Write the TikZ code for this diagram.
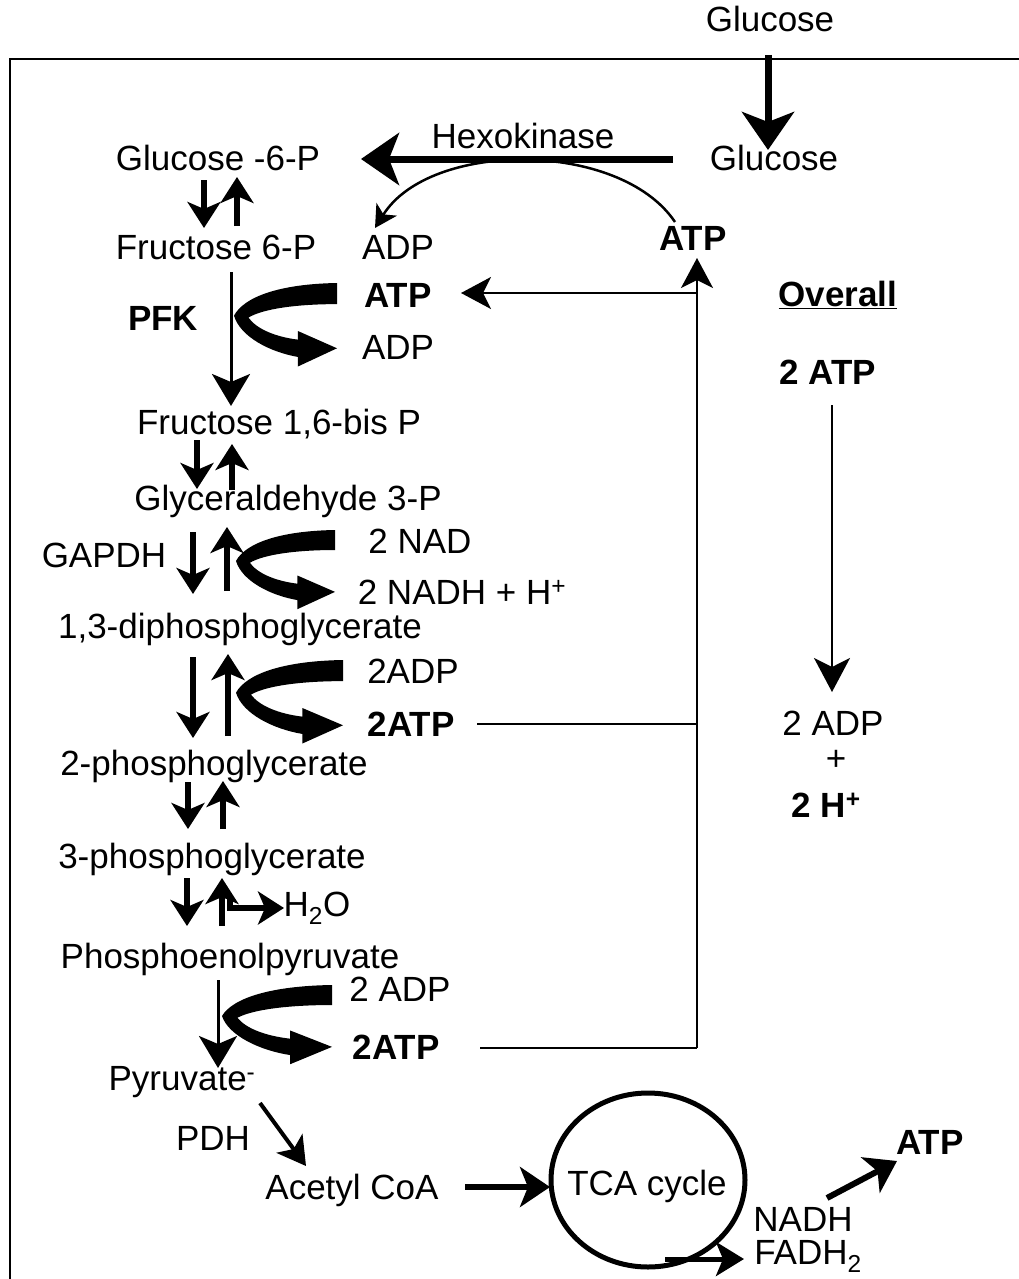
\documentclass[tikz,border=0pt]{standalone}
\usepackage{fontspec}
\setmainfont{Liberation Sans}
\usetikzlibrary{arrows.meta}
\begin{document}
\begin{tikzpicture}[x=1pt,y=-1pt,
  font=\fontsize{35}{40}\selectfont,
  lab/.style={inner sep=0pt, anchor=base},
  bf/.style={font=\fontsize{35}{40}\selectfont\bfseries},
  thinln/.style={line width=2pt},
  thinarr/.style={line width=2pt, -{Stealth[length=30pt,width=32pt,inset=8pt]}},
  pairarr/.style={line width=5.5pt, -{Stealth[length=26pt,width=33pt,inset=7pt]}},
  medarr/.style={line width=3pt, -{Stealth[length=32pt,width=38pt,inset=8pt]}},
  bigarr/.style={line width=7pt, -{Stealth[length=38pt,width=52pt,inset=10pt]}},
  fatarr/.style={line width=6pt, -{Stealth[length=30pt,width=40pt,inset=8pt]}},
  bend/.pic={\fill (100,0) .. controls (45,1) and (10,14) .. (0,34)
      .. controls (6,56) and (35,72) .. (62,77) -- (62,87) -- (100,68) -- (62,50) -- (62,59)
      .. controls (40,56) and (22,48) .. (14,36) .. controls (28,27) and (60,22) .. (100,22) -- cycle;}
]
\useasboundingbox (0,0) rectangle (1019,1279);

% frame
\draw[line width=2.5pt] (10,1295) -- (10,59) -- (1030,59);

% texts
\node[lab] (glctop) at (770,32) {Glucose};
\node[lab] (glc) at (774,170) {Glucose};
\node[lab] (hexo) at (523,149) {Hexokinase};
\node[lab] (g6p) at (218,170) {Glucose -6-P};
\node[lab] (f6p) at (216,259) {Fructose 6-P};
\node[lab] (adp1) at (398,259) {ADP};
\node[lab,bf] (atp1) at (693,250) {ATP};
\node[lab,bf] (atp2) at (398,307) {ATP};
\node[lab,bf] (pfk) at (163,330) {PFK};
\node[lab] (adp2) at (398,359) {ADP};
\node[lab] (f16) at (279,434) {Fructose 1,6-bis P};
\node[lab] (gap) at (288,510) {Glyceraldehyde 3-P};
\node[lab] (gapdh) at (104,567) {GAPDH};
\node[lab] (nad) at (420,553) {2 NAD};
\node[lab] (nadh) at (462,604) {2 NADH + H\textsuperscript{+}};
\node[lab] (dpg) at (240,638) {1,3-diphosphoglycerate};
\node[lab] (adp3) at (413,683) {2ADP};
\node[lab,bf] (atp3) at (411,736) {2ATP};
\node[lab] (pg2) at (214,775) {2-phosphoglycerate};
\node[lab] (pg3) at (212,868) {3-phosphoglycerate};
\node[lab] (h2o) at (317,916) {H\textsubscript{2}O};
\node[lab] (pep) at (230,968) {Phosphoenolpyruvate};
\node[lab] (adp4) at (400,1001) {2 ADP};
\node[lab,bf] (atp4) at (396,1059) {2ATP};
\node[lab] (pyr) at (182,1090) {Pyruvate\textsuperscript{-}};
\node[lab] (pdh) at (213,1150) {PDH};
\node[lab] (acoa) at (352,1199) {Acetyl CoA};
\node[lab] (tca) at (647,1195) {TCA cycle};
\node[lab] (nadh2) at (803,1231) {NADH};
\node[lab] (fadh) at (808,1264) {FADH\textsubscript{2}};
\node[lab,bf] (atp5) at (930,1154) {ATP};
\node[lab,bf] (overall) at (838,306) {\underline{Overall}};
\node[lab,bf] (atp6) at (828,384) {2 ATP};
\node[lab] (adp5) at (833,735) {2 ADP};
\node[lab] (plus) at (836,770) {+};
\node[lab,bf] (hplus) at (826,817) {2 H\textsuperscript{+}};

% glucose entry and hexokinase
\draw[bigarr] (768,55) -- (768,150);
\draw[bigarr] (673,159) -- (361,159);
\draw[line width=2.5pt, -{Stealth[length=22pt,width=24pt,inset=6pt]}] (675,222) .. controls (620,140) and (430,140) .. (375,228);

% ATP feedback lines
\coordinate (jA) at (697,293);
\coordinate (jB) at (697,724);
\coordinate (jC) at (697,1048);
\draw[thinarr] (jC) -- (697,258);
\draw[thinarr] (jA) -- (461,293);
\draw[thinln] (477,724) -- (jB);
\draw[thinln] (480,1048) -- (jC);

% reversible pairs
\draw[pairarr] (204,180) -- (204,228);
\draw[pairarr] (237,226) -- (237,177);
\draw[pairarr] (197,440) -- (197,489);
\draw[pairarr] (232,490) -- (232,444);
\draw[pairarr] (193,532) -- (193,594);
\draw[pairarr] (227,591) -- (227,527);
\draw[pairarr] (193,657) -- (193,738);
\draw[pairarr] (228,736) -- (228,654);
\draw[pairarr] (188,782) -- (188,829);
\draw[pairarr] (223,829) -- (223,781);
\draw[pairarr] (187,878) -- (187,926);
\draw[pairarr] (222,926) -- (222,878);
\draw[pairarr] (230,895) |- (284,908);

% PFK and PEP vertical steps
\draw[medarr] (231,272) -- (231,406);
\draw[medarr] (218,980) -- (218,1068);

% curved co-substrate arrows
\pic[xscale=1.03,yscale=0.96] at (234,283) {bend};
\pic[xscale=0.99,yscale=0.91] at (236,530) {bend};
\pic[xscale=1.07,yscale=0.96] at (236,660) {bend};
\pic[xscale=1.1,yscale=0.91] at (222,985) {bend};

% bottom part
\draw[line width=4pt, -{Stealth[length=28pt,width=32pt,inset=7pt]}] (260,1103) -- (306,1166);
\draw[fatarr] (465,1187) -- (550,1187);
\draw[line width=5pt] (648,1180) ellipse [x radius=97, y radius=87];
\draw[line width=5pt, -{Stealth[length=28pt,width=34pt,inset=7pt]}] (665,1259) -- (744,1259);
\draw[fatarr] (827,1198) -- (897,1161);

% overall
\draw[thinln, -{Stealth[length=34pt,width=36pt,inset=9pt]}] (832,405) -- (832,692);
\end{tikzpicture}
\end{document}
